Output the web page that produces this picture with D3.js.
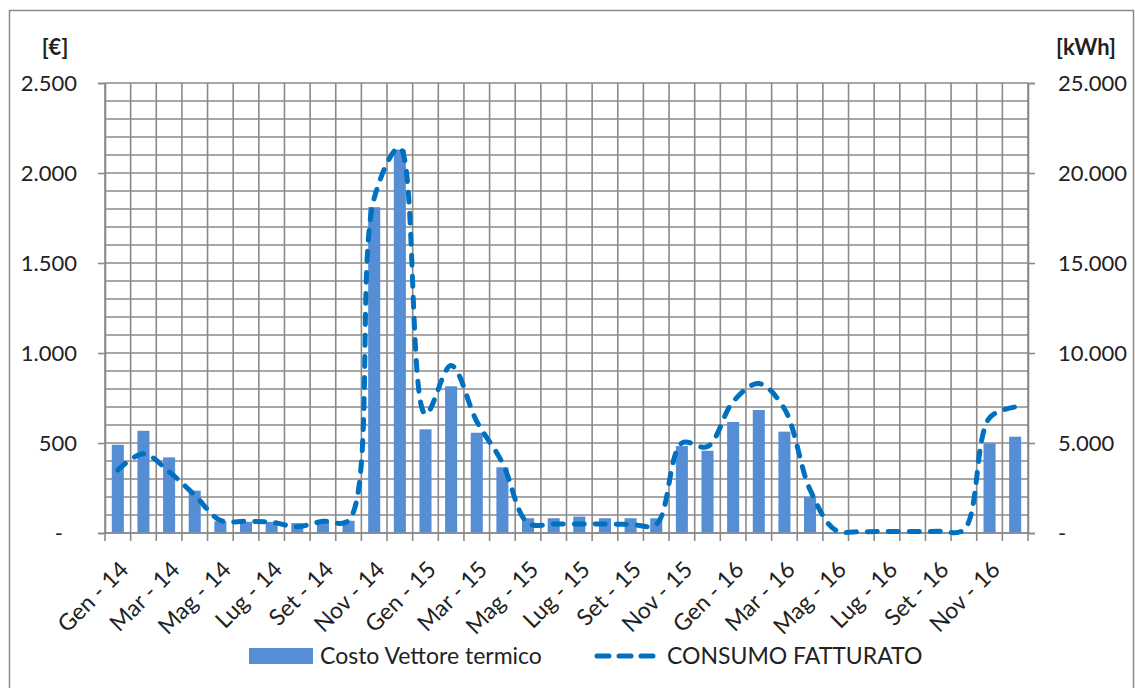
<!DOCTYPE html>
<html>
<head>
<meta charset="utf-8">
<script src="https://cdn.jsdelivr.net/npm/d3@7"></script>
<style>
  html, body { margin: 0; padding: 0; background: #fff; }
  svg { display: block; }
  text { font-family: Lato, "Open Sans", sans-serif; fill: #222; }
</style>
</head>
<body>
<svg id="chart" width="1135" height="688"></svg>
<script>
// ---- Data ----
const categories = [
  "Gen - 14","Feb - 14","Mar - 14","Apr - 14","Mag - 14","Giu - 14","Lug - 14","Ago - 14","Set - 14","Ott - 14","Nov - 14","Dic - 14",
  "Gen - 15","Feb - 15","Mar - 15","Apr - 15","Mag - 15","Giu - 15","Lug - 15","Ago - 15","Set - 15","Ott - 15","Nov - 15","Dic - 15",
  "Gen - 16","Feb - 16","Mar - 16","Apr - 16","Mag - 16","Giu - 16","Lug - 16","Ago - 16","Set - 16","Ott - 16","Nov - 16","Dic - 16"
];
const costoVettore = [
  490, 568, 420, 235, 65, 62, 62, 55, 62, 68, 1810, 2130,
  576, 815, 557, 365, 82, 82, 91, 82, 82, 82, 483, 457,
  617, 683, 563, 202, 0, 0, 0, 0, 0, 0, 498, 535
];
const consumoFatturato = [
  3500, 4400, 3400, 2100, 700, 650, 600, 350, 650, 700, 18600, 21400,
  6600, 9300, 6200, 3900, 550, 500, 500, 500, 480, 480, 5000, 4800,
  7300, 8300, 6900, 2400, 150, 80, 80, 80, 100, 180, 6400, 7000
];
const leftTicks = [0, 500, 1000, 1500, 2000, 2500];
const rightTicks = [0, 5000, 10000, 15000, 20000, 25000];
const leftUnit = "[€]";
const rightUnit = "[kWh]";
const seriesNames = ["Costo Vettore termico", "CONSUMO FATTURATO"];

// ---- Layout ----
const svg = d3.select("#chart");
const plot = { left: 105, right: 1028, top: 83, bottom: 533 };
const barColor = "#558ed5";
const lineColor = "#0070c0";
const gridColor = "#8a8a8a";

const fmt = v => v === 0 ? "-" : d3.format(",")(v).replace(/,/g, ".");

// outer border
svg.append("rect")
  .attr("x", 9.5).attr("y", 10.5).attr("width", 1124).attr("height", 700)
  .attr("fill", "none").attr("stroke", "#8a8a8a").attr("stroke-width", 1.5);

const x = d3.scaleBand().domain(categories).range([plot.left, plot.right]).paddingInner(0).paddingOuter(0);
const yL = d3.scaleLinear().domain([0, 2500]).range([plot.bottom, plot.top]);
const yR = d3.scaleLinear().domain([0, 25000]).range([plot.bottom, plot.top]);

// horizontal grid every 100
const gridVals = d3.range(0, 2501, 100);
svg.append("g").selectAll("line").data(gridVals).join("line")
  .attr("x1", plot.left).attr("x2", plot.right)
  .attr("y1", d => yL(d)).attr("y2", d => yL(d))
  .attr("stroke", gridColor).attr("stroke-width", 1.6);

// vertical grid at category boundaries
const bounds = categories.map(c => x(c)).concat([plot.right]);
svg.append("g").selectAll("line").data(bounds).join("line")
  .attr("x1", d => d).attr("x2", d => d)
  .attr("y1", plot.top).attr("y2", plot.bottom + 8)
  .attr("stroke", gridColor).attr("stroke-width", 1.6);

// bars
const bw = x.bandwidth() * 0.47;
svg.append("g").selectAll("rect").data(costoVettore).join("rect")
  .attr("x", (d, i) => x(categories[i]) + (x.bandwidth() - bw) / 2)
  .attr("width", bw)
  .attr("y", d => yL(d))
  .attr("height", d => yL(0) - yL(d))
  .attr("fill", barColor);

// left axis
const axL = svg.append("g").attr("transform", `translate(${plot.left},0)`)
  .call(d3.axisLeft(yL).tickValues(leftTicks).tickSize(7).tickPadding(21).tickFormat(fmt));
axL.select(".domain").attr("stroke", gridColor).attr("stroke-width", 1.6);
axL.selectAll(".tick line").attr("stroke", gridColor).attr("stroke-width", 1.6);
axL.selectAll(".tick text").attr("font-size", 22).attr("font-family", "Lato, sans-serif").attr("fill", "#222")
  .attr("dx", d => d === 0 ? -14 : 0);

// right axis
const axR = svg.append("g").attr("transform", `translate(${plot.right},0)`)
  .call(d3.axisRight(yR).tickValues(rightTicks).tickSize(7).tickPadding(23).tickFormat(fmt));
axR.select(".domain").attr("stroke", gridColor).attr("stroke-width", 1.6);
axR.selectAll(".tick line").attr("stroke", gridColor).attr("stroke-width", 1.6);
axR.selectAll(".tick text").attr("font-size", 22).attr("font-family", "Lato, sans-serif").attr("fill", "#222");

// bottom axis line
svg.append("line").attr("x1", plot.left).attr("x2", plot.right)
  .attr("y1", plot.bottom).attr("y2", plot.bottom)
  .attr("stroke", gridColor).attr("stroke-width", 1.6);

// x labels (every second month)
svg.append("g").selectAll("text")
  .data(categories.filter((c, i) => i % 2 === 0)).join("text")
  .attr("transform", c => `translate(${x(c) + x.bandwidth() / 2 + 12},${plot.bottom + 38}) rotate(-45)`)
  .attr("text-anchor", "end")
  .attr("font-size", 23)
  .text(c => c);

// unit labels
svg.append("text").attr("x", 55).attr("y", 55).attr("text-anchor", "middle")
  .attr("font-size", 22).attr("font-weight", "bold").text(leftUnit);
svg.append("text").attr("x", 1086).attr("y", 55).attr("text-anchor", "middle")
  .attr("font-size", 22).attr("font-weight", "bold").text(rightUnit);

// line
const line = d3.line()
  .x((d, i) => x(categories[i]) + x.bandwidth() / 2)
  .y(d => yR(d))
  .curve(d3.curveCatmullRom.alpha(0.5));
svg.append("path").datum(consumoFatturato)
  .attr("d", line)
  .attr("fill", "none").attr("stroke", lineColor)
  .attr("stroke-width", 5).attr("stroke-linecap", "round")
  .attr("stroke-dasharray", "10,11");

// legend
const lg = svg.append("g");
lg.append("rect").attr("x", 249).attr("y", 648).attr("width", 64).attr("height", 16).attr("fill", barColor);
lg.append("text").attr("x", 320).attr("y", 664).attr("font-size", 23).text(seriesNames[0]);
lg.append("line").attr("x1", 597).attr("x2", 656).attr("y1", 656).attr("y2", 656)
  .attr("stroke", lineColor).attr("stroke-width", 5).attr("stroke-linecap", "round")
  .attr("stroke-dasharray", "12,10");
lg.append("text").attr("x", 667).attr("y", 664).attr("font-size", 23).text(seriesNames[1]);
</script>
</body>
</html>
